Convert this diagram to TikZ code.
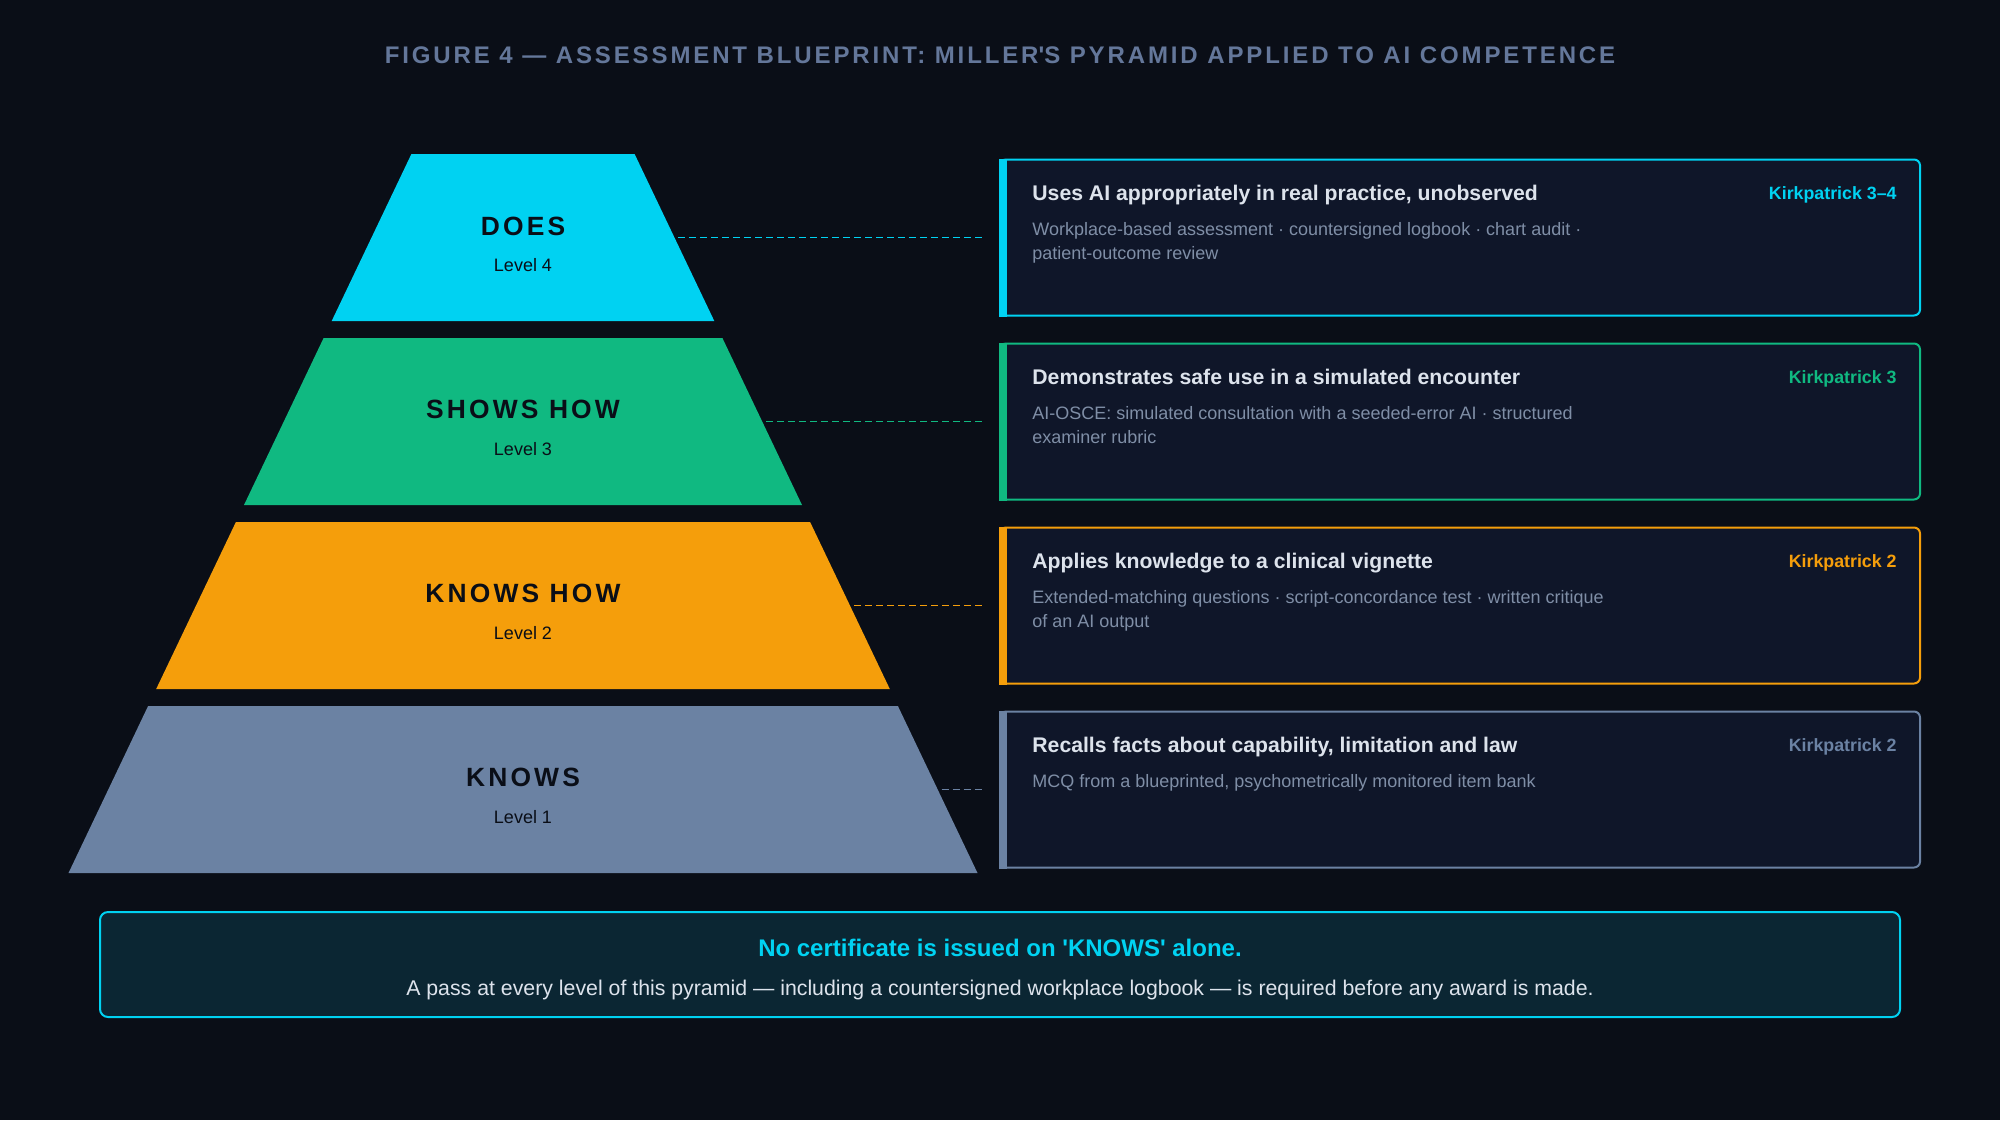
\documentclass[tikz,border=0pt]{standalone}
\usepackage{fontspec}
\setmainfont{Liberation Sans}
\newfontfamily\widefont{Liberation Sans}[LetterSpace=12]
\usetikzlibrary{positioning,calc}
\definecolor{bgdark}{HTML}{0A0E17}
\definecolor{cardbg}{HTML}{0F1629}
\definecolor{notebg}{HTML}{0B2633}
\definecolor{lvcyan}{HTML}{00D2F2}
\definecolor{lvgreen}{HTML}{10B981}
\definecolor{lvorange}{HTML}{F59E0B}
\definecolor{lvslate}{HTML}{6B82A3}
\definecolor{headtxt}{HTML}{DDE3EC}
\definecolor{desctxt}{HTML}{7F8EA6}
\definecolor{titletxt}{HTML}{64779A}
\tikzset{figtitle/.style={font=\widefont\bfseries\fontsize{12}{14}\selectfont, text=titletxt}}
\tikzset{bandname/.style={font=\widefont\bfseries\fontsize{13.2}{15}\selectfont, text=bgdark, inner sep=0}}
\tikzset{bandlvl/.style={font=\fontsize{9}{11}\selectfont, text=bgdark, inner sep=0}}
\tikzset{card/.style={draw=#1, line width=1pt, fill=cardbg, rounded corners=3pt, minimum width=460pt, minimum height=78pt, inner sep=0}}
\tikzset{cardhead/.style={font=\bfseries\fontsize{10.6}{13}\selectfont, text=headtxt, inner sep=0, anchor=base west}}
\tikzset{cardkp/.style={font=\bfseries\fontsize{8.9}{11}\selectfont, text=#1, inner sep=0, anchor=base east}}
\tikzset{carddesc/.style={font=\fontsize{9}{12}\selectfont, text=desctxt, inner sep=0, anchor=north west, align=left}}
\tikzset{link/.style={draw=#1, line width=0.9pt, dash pattern=on 3.5pt off 2pt, shorten <=2pt, shorten >=7.5pt}}
\tikzset{notebox/.style={draw=lvcyan, line width=1pt, fill=notebg, rounded corners=4pt, minimum width=900pt, minimum height=52.5pt, inner sep=0}}

\begin{document}
\begin{tikzpicture}[x=0.5pt, y=-0.5pt]
    \fill[bgdark] (0,0) rectangle (2000,1120);
    \useasboundingbox (0,0) rectangle (2000,1120);
    %
    \node[figtitle] (title) at (1000,55) {FIGURE 4 — ASSESSMENT BLUEPRINT: MILLER\textquotesingle S PYRAMID APPLIED TO AI COMPETENCE};
    %
    % pyramid bands
    \fill[lvcyan] (411.4,154) -- (634.6,154) -- (714.3,321) -- (331.7,321) -- cycle;
    \fill[lvgreen] (323.6,338) -- (722.4,338) -- (802,505) -- (244,505) -- cycle;
    \fill[lvorange] (235.9,522) -- (810.1,522) -- (889.8,689) -- (156.2,689) -- cycle;
    \fill[lvslate] (148.1,706) -- (897.9,706) -- (977.5,873) -- (68.5,873) -- cycle;
    %
    \node[bandname] (n4) at (523,226) {DOES};
    \node[bandlvl] (v4) at (523,265.5) {Level 4};
    \node[bandname] (n3) at (523,409.5) {SHOWS HOW};
    \node[bandlvl] (v3) at (523,449.5) {Level 3};
    \node[bandname] (n2) at (523,593) {KNOWS HOW};
    \node[bandlvl] (v2) at (523,633) {Level 2};
    \node[bandname] (n1) at (523,777) {KNOWS};
    \node[bandlvl] (v1) at (523,817) {Level 1};
    %
    \coordinate (e4) at (674.4,237.5);
    \coordinate (e3) at (762.2,421.5);
    \coordinate (e2) at (850,605.5);
    \coordinate (e1) at (937.7,789.5);
    %
    % cards
    \node[card=lvcyan] (c4) at (1460,237.5) {};
    \fill[lvcyan] (c4.north west) rectangle ([xshift=4pt]c4.south west);
    \node[cardhead] (h4) at (1032,200) {Uses AI appropriately in real practice, unobserved};
    \node[cardkp=lvcyan] (k4) at (1897,199) {Kirkpatrick 3–4};
    \node[carddesc] (d4) at (1032,222) {Workplace-based assessment · countersigned logbook · chart audit ·\\patient-outcome review};
    %
    \node[card=lvgreen] (c3) at (1460,421.5) {};
    \fill[lvgreen] (c3.north west) rectangle ([xshift=4pt]c3.south west);
    \node[cardhead] (h3) at (1032,384) {Demonstrates safe use in a simulated encounter};
    \node[cardkp=lvgreen] (k3) at (1897,383) {Kirkpatrick 3};
    \node[carddesc] (d3) at (1032,406) {AI-OSCE: simulated consultation with a seeded-error AI · structured\\examiner rubric};
    %
    \node[card=lvorange] (c2) at (1460,605.5) {};
    \fill[lvorange] (c2.north west) rectangle ([xshift=4pt]c2.south west);
    \node[cardhead] (h2) at (1032,568) {Applies knowledge to a clinical vignette};
    \node[cardkp=lvorange] (k2) at (1897,567) {Kirkpatrick 2};
    \node[carddesc] (d2) at (1032,590) {Extended-matching questions · script-concordance test · written critique\\of an AI output};
    %
    \node[card=lvslate] (c1) at (1460,789.5) {};
    \fill[lvslate] (c1.north west) rectangle ([xshift=4pt]c1.south west);
    \node[cardhead] (h1) at (1032,752) {Recalls facts about capability, limitation and law};
    \node[cardkp=lvslate] (k1) at (1897,751) {Kirkpatrick 2};
    \node[carddesc] (d1) at (1032,774) {MCQ from a blueprinted, psychometrically monitored item bank};
    %
    \draw[link=lvcyan] (e4) -- (c4);
    \draw[link=lvgreen] (e3) -- (c3);
    \draw[link=lvorange] (e2) -- (c2);
    \draw[link=lvslate] (e1) -- (c1);
    %
    % bottom note
    \node[notebox] (note) at (1000,964.5) {};
    \node[font=\bfseries\fontsize{12}{14}\selectfont, text=lvcyan] (nh) at (1000,948) {No certificate is issued on \textquotesingle KNOWS\textquotesingle{} alone.};
    \node[font=\fontsize{10.65}{13}\selectfont, text=headtxt] (nt) at (1000,989.5) {A pass at every level of this pyramid — including a countersigned workplace logbook — is required before any award is made.};
    %
\end{tikzpicture}
\end{document}
